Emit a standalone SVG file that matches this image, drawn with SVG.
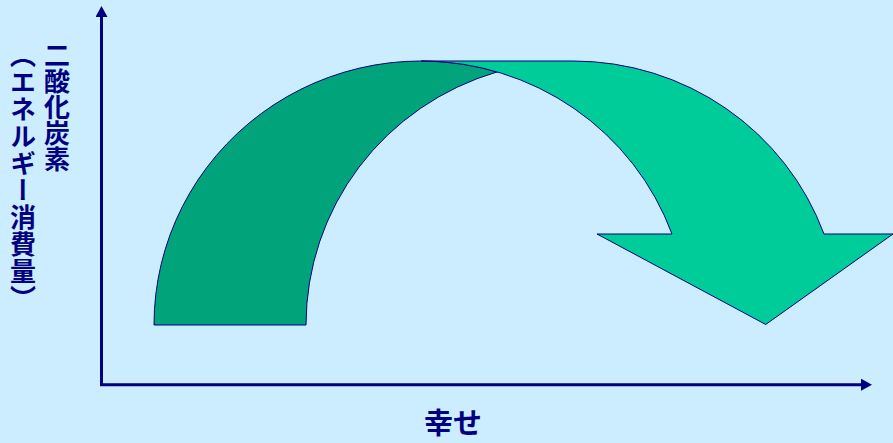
<svg xmlns="http://www.w3.org/2000/svg" width="893" height="443" viewBox="0 0 893 443">
  <style>
    .axis { stroke: #000080; stroke-width: 3; fill: none; }
    .shape { stroke: #000080; stroke-width: 1; stroke-linejoin: miter; }
    .label { font-family: "Noto Sans CJK JP", "Noto Sans", sans-serif; font-weight: bold; fill: #000080; }
    .vert { writing-mode: vertical-rl; font-size: 26px; }
  </style>
  <defs>
    <marker id="ah" markerUnits="userSpaceOnUse" markerWidth="11" markerHeight="12" viewBox="0 0 11 12" refX="0" refY="6" orient="auto">
      <path d="M0,0 L11,6 L0,12 Z" fill="#000080"/>
    </marker>
  </defs>
  <rect x="0" y="0" width="893" height="443" fill="#CCECFF"/>

  <g id="connectors">
    <line class="axis" x1="101.5" y1="386" x2="101.5" y2="17" marker-end="url(#ah)"/>
    <line class="axis" x1="100" y1="384.7" x2="861" y2="384.7" marker-end="url(#ah)"/>
  </g>

  <g id="curved-arrow">
    <path id="arrow-back" class="shape" fill="#00A37A" d="M154,325 A267.2,264 0 0 1 497.2,71.9 A267.2,264 0 0 0 306,325 Z"/>
    <path id="arrow-front" class="shape" fill="#00CC99" d="M421.2,61 L573.2,61 A267.2,264 0 0 1 824,234 L893,234 L765.7,324.5 L597,234 L672,234 A267.2,264 0 0 0 421.2,61 Z"/>
  </g>

  <g id="y-label">
    <text class="label vert" x="57" y="42">二酸化炭素</text>
    <text class="label vert" x="23" y="42" letter-spacing="1">（エネルギー消費量）</text>
  </g>

  <g id="x-label">
    <text class="label" x="453" y="434" font-size="29" text-anchor="middle">幸せ</text>
  </g>
</svg>
